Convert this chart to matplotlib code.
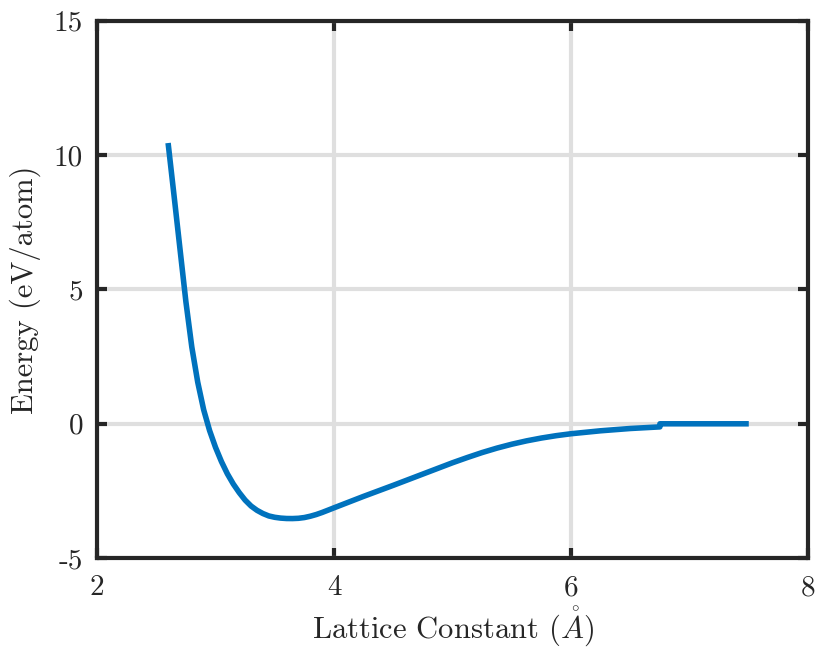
import matplotlib
matplotlib.use("Agg")
import matplotlib.pyplot as plt

plt.rcParams["font.family"] = "serif"
plt.rcParams["font.serif"] = ["cmr10", "DejaVu Serif"]
plt.rcParams["mathtext.fontset"] = "cm"
plt.rcParams["axes.unicode_minus"] = False
plt.rcParams["axes.formatter.use_mathtext"] = True

# Energy per atom versus lattice constant (bound part, then cutoff at zero)
lattice_bound = [2.60, 2.65, 2.70, 2.75, 2.80, 2.85, 2.90, 2.95, 3.00, 3.05,
                 3.10, 3.15, 3.20, 3.25, 3.30, 3.35, 3.40, 3.45, 3.50, 3.55,
                 3.60, 3.65, 3.70, 3.75, 3.80, 3.85, 3.90, 3.95, 4.00, 4.25,
                 4.50, 4.75, 5.00, 5.125, 5.25, 5.375, 5.50, 5.625, 5.75, 5.875,
                 6.00, 6.25, 6.50, 6.75]
energy_bound = [10.45, 8.50, 6.52, 4.55, 2.86, 1.55, 0.525, -0.25, -0.875, -1.405,
                -1.86, -2.24, -2.56, -2.84, -3.06, -3.22, -3.34, -3.43, -3.48, -3.51,
                -3.525, -3.527, -3.517, -3.489, -3.44, -3.377, -3.30, -3.214, -3.127, -2.70,
                -2.29, -1.87, -1.45, -1.255, -1.07, -0.905, -0.76, -0.635, -0.53, -0.442,
                -0.37, -0.26, -0.175, -0.115]
lattice_cut = [6.75, 7.00, 7.25, 7.50]
energy_cut = [0.0, 0.0, 0.0, 0.0]

x_ticks = [2, 4, 6, 8]
y_ticks = [-5, 0, 5, 10, 15]
x_ticklabels = ["2", "4", "6", "8"]
y_ticklabels = ["-5", "0", "5", "10", "15"]

line_color = "#0072BD"
axis_color = "#262626"
grid_color = "#dfdfdf"

fig = plt.figure(figsize=(8.22, 6.49), dpi=100)
ax = fig.add_axes([0.118, 0.140, 0.865, 0.828])

ax.plot(lattice_bound + lattice_cut, energy_bound + energy_cut,
        color=line_color, lw=4.0, solid_capstyle="butt", solid_joinstyle="round", zorder=3)

ax.set_xlim(2, 8)
ax.set_ylim(-5, 15)
ax.set_xticks(x_ticks)
ax.set_yticks(y_ticks)
ax.set_xticklabels(x_ticklabels)
ax.set_yticklabels(y_ticklabels)

ax.grid(True, color=grid_color, lw=3.0, zorder=0)
ax.set_axisbelow(True)

for side in ax.spines.values():
    side.set_linewidth(3.0)
    side.set_color(axis_color)
    side.set_zorder(4)

ax.tick_params(direction="in", length=7, width=3.0, color=axis_color,
               top=True, right=True, labelsize=21, labelcolor=axis_color)
ax.tick_params(axis="x", pad=12)
ax.tick_params(axis="y", pad=10)

ax.set_xlabel(r"Lattice Constant ($\mathring{A}$)", fontsize=22, color=axis_color, labelpad=2)
ax.set_ylabel("Energy (eV/atom)", fontsize=22, color=axis_color, labelpad=9)

fig.savefig("out.png", dpi=100)
